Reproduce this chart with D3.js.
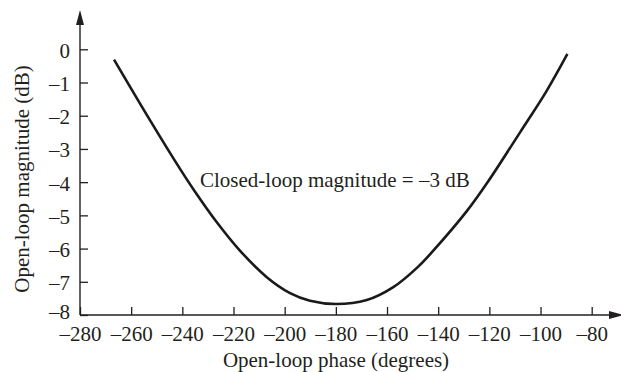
<!DOCTYPE html>
<html>
<head>
<meta charset="utf-8">
<script src="https://cdn.jsdelivr.net/npm/d3@7/dist/d3.min.js"></script>
<style>
  html, body { margin: 0; padding: 0; background: #fff; }
  svg { display: block; }
  text { font-family: "Liberation Serif", "Times New Roman", serif; fill: #231f20; }
</style>
</head>
<body>
<svg id="chart" width="621" height="372"></svg>
<script>
// -3 dB closed-loop magnitude contour on Nichols axes
const phaseDeg = [-266.7, -252.6, -240.9, -235.1, -226.6, -217.5, -207.0, -197.9, -190.1, -179.9,
                  -167.9, -157.7, -147.9, -142.0, -128.9, -120.5, -108.0, -97.6, -89.5];
const magDb    = [-0.31, -2.14, -3.60, -4.28, -5.20, -6.06, -6.86, -7.34, -7.57, -7.67,
                  -7.55, -7.17, -6.55, -6.07, -4.88, -3.98, -2.50, -1.25, -0.14];

const xTicks = [-280, -260, -240, -220, -200, -180, -160, -140, -120, -100, -80];
const yTicks = [-8, -7, -6, -5, -4, -3, -2, -1, 0];

const xTitle = "Open-loop phase (degrees)";
const yTitle = "Open-loop magnitude (dB)";
const note = "Closed-loop magnitude = \u20133 dB";

const svg = d3.select("#chart");
const ink = "#231f20";
const fontSize = 21;

const x = d3.scaleLinear().domain([-280, -80]).range([80, 591.7]);
const y = d3.scaleLinear().domain([-8, 0]).range([315, 49.3]);

const fmt = v => (v < 0 ? "\u2013" + Math.abs(v) : String(v));

// X axis: ticks point upward, line runs on to an arrow
const xAxis = d3.axisBottom(x).tickValues(xTicks).tickSizeInner(-8).tickSizeOuter(0)
  .tickPadding(13).tickFormat(fmt);
const gx = svg.append("g").attr("transform", `translate(0,${y(-8)})`).call(xAxis);
gx.select(".domain").remove();
gx.selectAll(".tick line").attr("stroke", ink).attr("stroke-width", 1.3);
gx.selectAll(".tick text").attr("font-size", fontSize).attr("fill", ink).attr("dy", "0.6em");

// Y axis: ticks point right; the lowest label sits a little higher, clear of the x labels
const yAxis = d3.axisLeft(y).tickValues(yTicks).tickSizeInner(-8).tickSizeOuter(0)
  .tickPadding(10).tickFormat(fmt);
const gy = svg.append("g").attr("transform", `translate(${x(-280)},0)`).call(yAxis);
gy.select(".domain").remove();
gy.selectAll(".tick line").attr("stroke", ink).attr("stroke-width", 1.3);
gy.selectAll(".tick text").attr("font-size", fontSize).attr("fill", ink)
  .attr("dy", d => (d === -8 ? "0.15em" : "0.38em"));

// Axis lines with arrowheads
const x0 = x(-280), y0 = y(-8);
svg.append("line").attr("x1", x0).attr("y1", y0).attr("x2", 612).attr("y2", y0)
  .attr("stroke", ink).attr("stroke-width", 1.4);
svg.append("path").attr("d", `M624,${y0} L609,${y0 - 4} L609,${y0 + 4} Z`).attr("fill", ink);
svg.append("line").attr("x1", x0).attr("y1", y0).attr("x2", x0).attr("y2", 22)
  .attr("stroke", ink).attr("stroke-width", 1.4);
svg.append("path").attr("d", `M${x0},10 L${x0 - 4},25 L${x0 + 4},25 Z`).attr("fill", ink);

// Contour
const pts = phaseDeg.map((p, i) => [p, magDb[i]]);
const line = d3.line().x(d => x(d[0])).y(d => y(d[1])).curve(d3.curveCatmullRom.alpha(0.5));
svg.append("path").datum(pts).attr("d", line)
  .attr("fill", "none").attr("stroke", "#1a1a1a").attr("stroke-width", 2.6)
  .attr("stroke-linejoin", "round");

// Titles and label
svg.append("text").attr("x", 336).attr("y", 367).attr("text-anchor", "middle")
  .attr("font-size", fontSize).text(xTitle);
svg.append("text").attr("transform", "translate(29,179) rotate(-90)").attr("text-anchor", "middle")
  .attr("font-size", fontSize).text(yTitle);
svg.append("text").attr("x", 200).attr("y", 187).attr("font-size", fontSize).text(note);
</script>
</body>
</html>
